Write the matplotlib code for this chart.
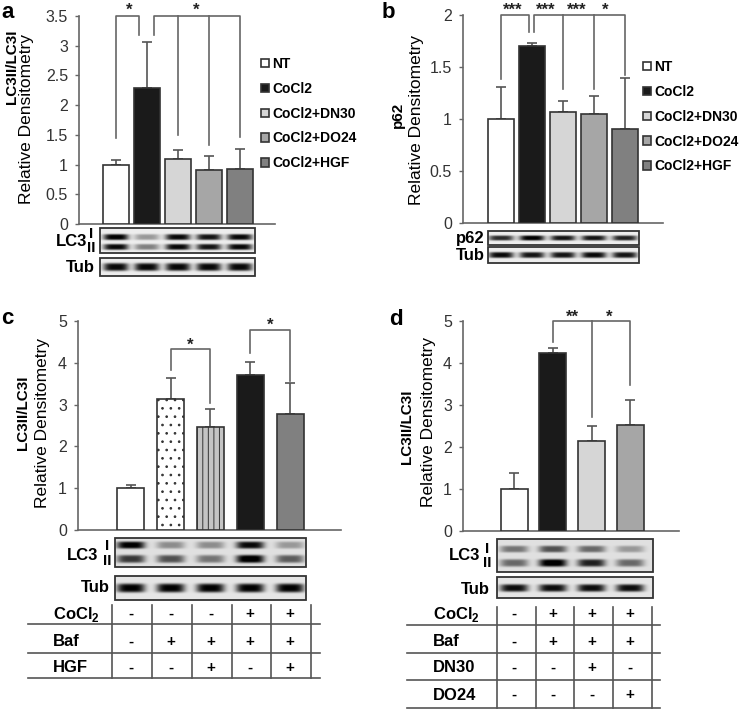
import numpy as np
import matplotlib
matplotlib.use('Agg')
import matplotlib.pyplot as plt

plt.rcParams['font.family'] = ['Liberation Sans', 'DejaVu Sans']
plt.rcParams['mathtext.fontset'] = 'custom'
plt.rcParams['mathtext.rm'] = 'Liberation Sans:bold'
plt.rcParams['mathtext.bf'] = 'Liberation Sans:bold'
plt.rcParams['hatch.linewidth'] = 0.7

# ---------------- data ----------------
ab_groups = ['NT', 'CoCl2', 'CoCl2+DN30', 'CoCl2+DO24', 'CoCl2+HGF']
a_vals = [1.00, 2.29, 1.10, 0.91, 0.93]
a_errs = [0.08, 0.77, 0.14, 0.23, 0.33]
b_vals = [1.00, 1.70, 1.07, 1.05, 0.90]
b_errs = [0.31, 0.03, 0.10, 0.17, 0.49]
c_vals = [1.00, 3.13, 2.46, 3.72, 2.77]
c_errs = [0.07, 0.50, 0.44, 0.29, 0.74]
d_vals = [1.00, 4.25, 2.14, 2.53]
d_errs = [0.39, 0.10, 0.36, 0.59]

a_yticks = [0, 0.5, 1, 1.5, 2, 2.5, 3, 3.5]
b_yticks = [0, 0.5, 1, 1.5, 2]
cd_yticks = [0, 1, 2, 3, 4, 5]

# blot band intensities per lane
a_lc3_I = [1.0, 0.35, 0.95, 0.9, 0.95]
a_lc3_II = [0.95, 0.45, 0.95, 0.9, 0.95]
a_tub = [0.95, 0.95, 0.95, 0.95, 0.95]
b_p62 = [0.8, 1.0, 0.9, 0.9, 0.85]
b_tub = [0.95, 0.9, 0.9, 0.95, 0.9]
c_lc3_I = [0.95, 0.35, 0.35, 0.9, 0.3]
c_lc3_II = [0.7, 0.6, 0.45, 1.0, 0.55]
c_tub = [0.95, 0.95, 0.95, 0.95, 0.95]
d_lc3_I = [0.45, 0.6, 0.5, 0.3]
d_lc3_II = [0.5, 1.0, 0.8, 0.5]
d_tub = [0.9, 0.9, 0.9, 0.9]

# treatment tables
c_rows = ['CoCl$_\\mathbf{2}$', 'Baf', 'HGF']
c_table = [['-', '-', '-', '+', '+'],
           ['-', '+', '+', '+', '+'],
           ['-', '-', '+', '-', '+']]
d_rows = ['CoCl$_\\mathbf{2}$', 'Baf', 'DN30', 'DO24']
d_table = [['-', '+', '+', '+'],
           ['-', '+', '+', '+'],
           ['-', '-', '+', '-'],
           ['-', '-', '-', '+']]

# ---------------- figure ----------------
W, H = 747, 711
fig = plt.figure(figsize=(W / 100, H / 100), dpi=100)
over = fig.add_axes([0, 0, 1, 1])
over.axis('off')

EDGE = '#333333'
AXC = '#666666'


def make_axes(px0, py0, px1, py1, xlim, ylim, yticks):
    ax = fig.add_axes([px0 / W, 1 - py1 / H, (px1 - px0) / W, (py1 - py0) / H])
    ax.set_xlim(xlim)
    ax.set_ylim(ylim)
    for s in ['top', 'right']:
        ax.spines[s].set_visible(False)
    for s in ['left', 'bottom']:
        ax.spines[s].set_color(AXC)
        ax.spines[s].set_linewidth(1.2)
    ax.set_xticks([])
    ax.set_yticks(yticks)
    ax.set_yticklabels([f'{t:g}' for t in yticks])
    ax.tick_params(axis='y', length=3, width=1, color=AXC, labelsize=11.5,
                   labelcolor='#333333', pad=5)
    ax.patch.set_alpha(0)
    return ax


def draw_bars(ax, vals, errs, colors, width, labels=None, hatches=None):
    handles = []
    for i, v in enumerate(vals):
        h = hatches[i] if hatches else None
        b = ax.bar(i, v, width=width, color=colors[i], edgecolor=EDGE, linewidth=1.2,
                   hatch=h, label=labels[i] if labels else None, zorder=3)
        handles.append(b[0])
    ax.errorbar(range(len(vals)), vals, yerr=[np.zeros(len(vals)), errs], fmt='none',
                ecolor='#555555', elinewidth=1.2, capsize=3.5, capthick=1.2, zorder=2)
    return handles


def lane_px(ax, x):
    return ax.transData.transform((x, 0))[0]


def brackets(ax, paths, stars, fs=12):
    for xs, ys in paths:
        ax.plot(xs, ys, color=AXC, lw=1.2, clip_on=False, zorder=1)
    for x, y, s in stars:
        ax.text(x, y, s, ha='center', va='baseline', fontsize=fs, fontweight='bold',
                color='#222222', clip_on=False)


def blot(ax, ncol, x0, x1, y0, y1, bands, bw, bg=0.9):
    lanes = [lane_px(ax, i) for i in range(ncol)]
    w = int((x1 - x0) * 3)
    h = int((y1 - y0) * 3)
    X, Y = np.meshgrid(np.linspace(x0, x1, w), np.linspace(y0, y1, h))
    dark = np.zeros_like(X)
    for yb, sh, amps in bands:
        for cx, a in zip(lanes, amps):
            dark += a * np.exp(-(np.abs(X - cx) / bw) ** 4) * np.exp(-((Y - yb) / sh) ** 4)
    img = np.clip(bg - 0.95 * np.clip(dark, 0, 1.0), 0, 1)
    over.imshow(img, cmap='gray', vmin=0, vmax=1, extent=(x0, x1, y1, y0),
                aspect='auto', interpolation='bilinear', zorder=1)
    over.add_patch(plt.Rectangle((x0, y0), x1 - x0, y1 - y0, fill=False,
                                 ec=EDGE, lw=1.3, zorder=2))


ab_colors = ['white', '#1a1a1a', '#d6d6d6', '#a6a6a6', '#808080']

# ---------------- panel a ----------------
axa = make_axes(79, 16, 275, 224, (-1.19, 5.13), (0, 3.5), a_yticks)
ha = draw_bars(axa, a_vals, a_errs, ab_colors, 0.84, labels=ab_groups)
brackets(axa,
         [([0, 0, 0.74, 0.74], [1.45, 3.5, 3.5, 3.18]),
          ([1.23, 1.23, 4, 4], [3.18, 3.5, 3.5, 1.46]),
          ([2, 2], [3.5, 1.50]),
          ([3, 3], [3.5, 1.33])],
         [(0.42, 3.52, '*'), (2.58, 3.52, '*')])
blot(axa, 5, 100, 255, 228, 253,
     [(237, 3.0, a_lc3_I), (247, 3.0, a_lc3_II)], 12.5, bg=0.93)
blot(axa, 5, 100, 255, 258, 276, [(267, 4.0, a_tub)], 12.5, bg=0.93)
over.text(87, 241, 'LC3', ha='right', va='center', fontsize=12, fontweight='bold')
over.text(91, 234, 'I', ha='center', va='center', fontsize=11, fontweight='bold')
over.text(91, 248, 'II', ha='center', va='center', fontsize=11, fontweight='bold')
over.text(95, 267, 'Tub', ha='right', va='center', fontsize=12, fontweight='bold')
over.text(12, 67, 'LC3II/LC3I', rotation=90, ha='center', va='center',
          fontsize=11, fontweight='bold')
over.text(27, 119, 'Relative Densitometry', rotation=90, ha='center', va='center',
          fontsize=12.5)
fig.legend(ha, ab_groups, loc='upper left', bbox_to_anchor=(261 / W, 1 - 57 / H),
           frameon=False, prop={'size': 10, 'weight': 'bold'}, handlelength=0.55,
           handleheight=0.55, handletextpad=0.25, labelspacing=0.78, borderpad=0,
           borderaxespad=0)

# ---------------- panel b ----------------
axb = make_axes(463, 15, 663, 223, (-1.23, 5.23), (0, 2), b_yticks)
hb = draw_bars(axb, b_vals, b_errs, ab_colors, 0.84, labels=ab_groups)
brackets(axb,
         [([0, 0, 0.9, 0.9], [1.38, 2, 2, 1.84]),
          ([1.06, 1.06, 4, 4], [1.84, 2, 2, 1.42]),
          ([2, 2], [2, 1.29]),
          ([3, 3], [2, 1.29])],
         [(0.39, 2.0, '***'), (1.45, 2.0, '***'), (2.45, 2.0, '***'), (3.35, 2.0, '*')])
blot(axb, 5, 488, 639, 231, 245, [(238, 2.6, b_p62)], 12.5, bg=0.93)
blot(axb, 5, 488, 639, 247, 263, [(255, 3.0, b_tub)], 12.5, bg=0.93)
over.text(485, 238, 'p62', ha='right', va='center', fontsize=12, fontweight='bold')
over.text(485, 255, 'Tub', ha='right', va='center', fontsize=12, fontweight='bold')
over.text(398, 115, 'p62', rotation=90, ha='center', va='center',
          fontsize=11, fontweight='bold')
over.text(416, 120, 'Relative Densitometry', rotation=90, ha='center', va='center',
          fontsize=12.5)
fig.legend(hb, ab_groups, loc='upper left', bbox_to_anchor=(643 / W, 1 - 60 / H),
           frameon=False, prop={'size': 10, 'weight': 'bold'}, handlelength=0.55,
           handleheight=0.55, handletextpad=0.25, labelspacing=0.78, borderpad=0,
           borderaxespad=0)

# ---------------- panel c ----------------
axc = make_axes(78, 321, 341, 530, (-1.33, 5.28), (0, 5), cd_yticks)
draw_bars(axc, c_vals, c_errs, ['white', 'white', '#c4c4c4', '#1a1a1a', '#808080'], 0.68,
          hatches=[None, '..', '|||', None, None])
brackets(axc,
         [([1, 1, 2, 2], [3.83, 4.33, 4.33, 3.05]),
          ([3, 3, 4, 4], [4.23, 4.78, 4.78, 3.57])],
         [(1.5, 4.30, '*'), (3.5, 4.80, '*')])
blot(axc, 5, 115, 306, 538, 567,
     [(545, 3.6, c_lc3_I), (559, 4.0, c_lc3_II)], 14, bg=0.88)
blot(axc, 5, 115, 306, 576, 600, [(588, 4.5, c_tub)], 14, bg=0.9)
over.text(98, 556, 'LC3', ha='right', va='center', fontsize=12, fontweight='bold')
over.text(107, 546, 'I', ha='center', va='center', fontsize=11, fontweight='bold')
over.text(107, 561, 'II', ha='center', va='center', fontsize=11, fontweight='bold')
over.text(110, 588, 'Tub', ha='right', va='center', fontsize=12, fontweight='bold')
over.text(23, 413, 'LC3II/LC3I', rotation=90, ha='center', va='center',
          fontsize=11, fontweight='bold')
over.text(43, 423, 'Relative Densitometry', rotation=90, ha='center', va='center',
          fontsize=12.5)
# table c
for yy in [624, 653, 678]:
    over.plot([28, 320], [yy, yy], color='#555555', lw=1.2)
for i in range(len(c_vals) + 1):
    xx = lane_px(axc, i - 0.47)
    over.plot([xx, xx], [605, 678], color='#555555', lw=1.2)
for r, (lab, yy) in enumerate(zip(c_rows, [614, 642, 668])):
    over.text(53, yy, lab, ha='left', va='center', fontsize=12, fontweight='bold')
    for i, s in enumerate(c_table[r]):
        over.text(lane_px(axc, i), yy, s, ha='center', va='center', fontsize=11,
                  fontweight='bold')

# ---------------- panel d ----------------
axd = make_axes(463, 321, 679, 531, (-1.32, 4.26), (0, 5), cd_yticks)
draw_bars(axd, d_vals, d_errs, ['white', '#1a1a1a', '#d6d6d6', '#a6a6a6'], 0.70)
brackets(axd,
         [([1, 1, 3, 3], [4.51, 5.0, 5.0, 3.47]),
          ([2, 2], [5.0, 2.72])],
         [(1.5, 4.98, '**'), (2.45, 4.98, '*')])
blot(axd, 4, 497, 653, 539, 572,
     [(549, 3.4, d_lc3_I), (563, 3.8, d_lc3_II)], 14, bg=0.88)
blot(axd, 4, 497, 653, 577, 598, [(588, 3.8, d_tub)], 14, bg=0.9)
over.text(480, 556, 'LC3', ha='right', va='center', fontsize=12, fontweight='bold')
over.text(487, 549, 'I', ha='center', va='center', fontsize=11, fontweight='bold')
over.text(487, 563, 'II', ha='center', va='center', fontsize=11, fontweight='bold')
over.text(490, 589, 'Tub', ha='right', va='center', fontsize=12, fontweight='bold')
over.text(407, 427, 'LC3II/LC3I', rotation=90, ha='center', va='center',
          fontsize=11, fontweight='bold')
over.text(428, 422, 'Relative Densitometry', rotation=90, ha='center', va='center',
          fontsize=12.5)
# table d
for yy in [625, 653, 680, 708]:
    over.plot([407, 660], [yy, yy], color='#555555', lw=1.2)
for i in range(len(d_vals) + 1):
    xx = lane_px(axd, i - 0.44)
    over.plot([xx, xx], [607, 708], color='#555555', lw=1.2)
for r, (lab, yy) in enumerate(zip(d_rows, [614, 642, 668, 695])):
    over.text(433, yy, lab, ha='left', va='center', fontsize=12, fontweight='bold')
    for i, s in enumerate(d_table[r]):
        over.text(lane_px(axd, i), yy, s, ha='center', va='center', fontsize=11,
                  fontweight='bold')

# panel letters (mathtext gives an ink-tight box)
for (x, y, s) in [(1, 18, 'a'), (381, 18, 'b'), (1, 324, 'c'), (389, 325, 'd')]:
    over.text(x, y, '$\\mathbf{%s}$' % s, ha='left', va='baseline', fontsize=16)

over.set_xlim(0, W)
over.set_ylim(H, 0)

fig.savefig('out.png', dpi=100)
